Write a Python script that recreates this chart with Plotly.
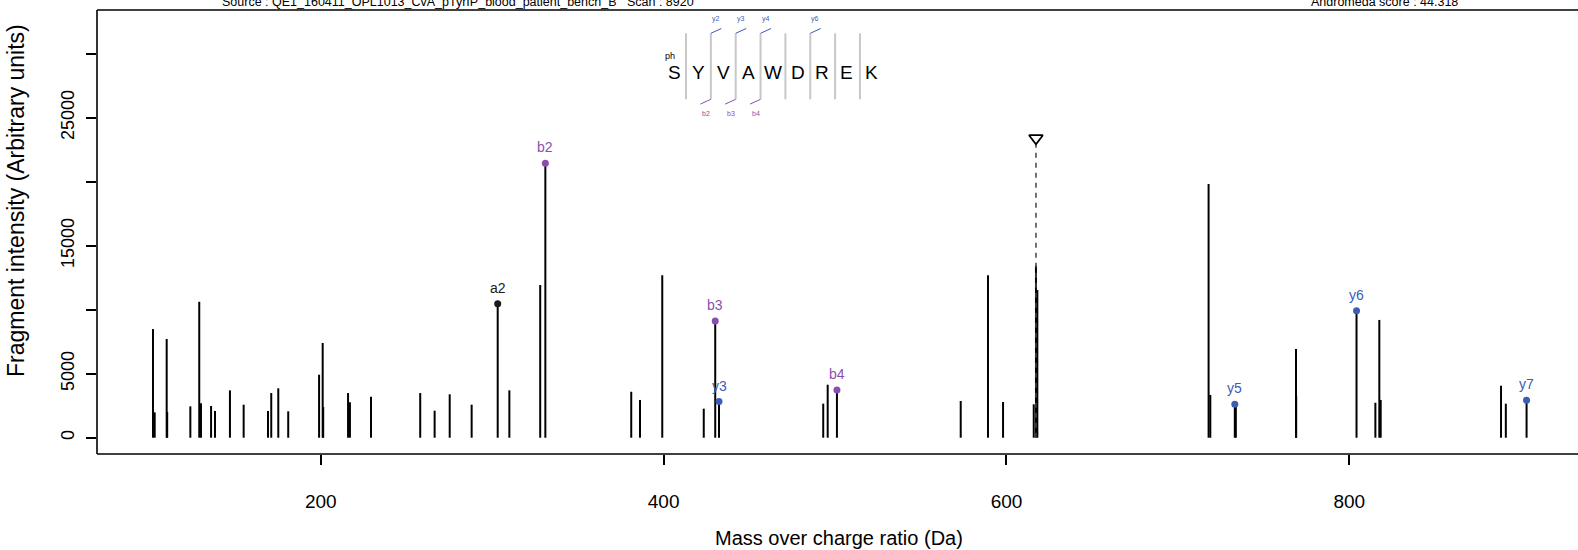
import plotly.graph_objects as go

# ---------------- data ----------------
peak_mz = [102.1, 103.1, 110.1, 110.4, 123.9, 129.1, 130.1, 136.0, 138.3, 147.0,
           155.0, 169.2, 171.1, 175.2, 181.0, 199.0, 201.1, 201.4, 215.9, 217.0,
           229.3, 258.0, 266.4, 275.2, 288.0, 303.2, 310.0, 328.0, 331.0, 381.1,
           386.2, 399.2, 423.4, 430.1, 432.3, 493.1, 495.7, 501.1, 573.3, 589.2,
           598.0, 615.9, 617.2, 618.0, 717.9, 718.9, 733.2, 733.8, 768.9, 769.0,
           804.2, 815.2, 817.5, 818.3, 888.5, 891.3, 903.4]
peak_int = [8490, 1980, 7710, 2000, 2450, 10620, 2690, 2480, 2090, 3700,
            2580, 2090, 3490, 3860, 2060, 4920, 7400, 2400, 3490, 2770,
            3200, 3490, 2110, 3390, 2580, 10470, 3700, 11930, 21450, 3590,
            2950, 12690, 2270, 9120, 2820, 2660, 4140, 3730, 2870, 12690,
            2790, 2610, 13440, 11540, 19820, 3340, 2610, 2500, 6930, 3280,
            9920, 2730, 9200, 2950, 4060, 2660, 2930]

ion_labels = ["a2", "b2", "b3", "y3", "b4", "y5", "y6", "y7"]
ion_mz = [303.2, 331.0, 430.1, 432.3, 501.1, 733.2, 804.2, 903.4]
ion_int = [10470, 21450, 9120, 2820, 3730, 2610, 9920, 2930]
ion_kind = ["a", "b", "b", "y", "b", "y", "y", "y"]

precursor_mz = 617.2
precursor_int = 23400

sequence = ["S", "Y", "V", "A", "W", "D", "R", "E", "K"]
seq_mods = {0: "ph"}
b_ions_seq = [2, 3, 4]
y_ions_seq = [2, 3, 4, 6]

x_ticks = [200, 400, 600, 800]
y_ticks = [0, 5000, 10000, 15000, 20000, 25000, 30000]
y_tick_text = ["0", "5000", "", "15000", "", "25000", ""]

source_text = "Source : QE1_160411_OPL1013_CvA_pTyrIP_blood_patient_bench_B   Scan : 8920"
score_text = "Andromeda score : 44.318"
x_title = "Mass over charge ratio (Da)"
y_title = "Fragment intensity (Arbitrary units)"

# ---------------- style ----------------
FONT = "Liberation Sans, Arial, Helvetica, sans-serif"
W, H = 1578, 550
ML, MR, MT, MB = 97, 0, 10, 96
PW, PH = W - ML - MR, H - MT - MB
colors = {"a": "#1a1a1a", "b": "#8a4fae", "y": "#3b5db3"}
SEP_GRAY = "#c8c8c8"


def px(xp):
    return (xp - ML) / PW


def py(yp):
    return (H - MB - yp) / PH


fig = go.Figure()

# peaks as sticks
xs, ys = [], []
for m, i in zip(peak_mz, peak_int):
    xs += [m, m, None]
    ys += [0, i, None]
fig.add_trace(go.Scatter(x=xs, y=ys, mode="lines",
                         line=dict(color="black", width=2), hoverinfo="skip",
                         showlegend=False))

# precursor dashed line + triangle
fig.add_trace(go.Scatter(x=[precursor_mz, precursor_mz], y=[0, precursor_int - 500],
                         mode="lines", line=dict(color="#444444", width=1.5, dash="5px,5px"),
                         showlegend=False, hoverinfo="skip"))
fig.add_trace(go.Scatter(x=[precursor_mz], y=[precursor_int], mode="markers",
                         marker=dict(symbol="triangle-down-open", size=12,
                                     color="black", line=dict(width=1.8, color="black")),
                         showlegend=False, hoverinfo="skip"))

# ion markers
fig.add_trace(go.Scatter(x=ion_mz, y=ion_int, mode="markers",
                         marker=dict(size=7, color=[colors[k] for k in ion_kind]),
                         showlegend=False, hoverinfo="skip"))

annotations = []
for lab, m, i, k in zip(ion_labels, ion_mz, ion_int, ion_kind):
    annotations.append(dict(x=m, y=i, xref="x", yref="y", text=lab, showarrow=False,
                            yshift=16, font=dict(family=FONT, size=14, color=colors[k])))

# peptide header
letter_x0, letter_dx = 674.3, 24.67
sep_x0, sep_dx = 686.0, 24.85
letter_y = 72.0
sep_top, sep_bot = 33.3, 99.3
shapes = []
for idx, aa in enumerate(sequence):
    annotations.append(dict(x=px(letter_x0 + idx * letter_dx), y=py(letter_y),
                            xref="paper", yref="paper", text=aa, showarrow=False,
                            xanchor="center", yanchor="middle",
                            font=dict(family=FONT, size=19, color="black")))
    if idx in seq_mods:
        annotations.append(dict(x=px(letter_x0 + idx * letter_dx - 4), y=py(56.5),
                                xref="paper", yref="paper", text=seq_mods[idx],
                                showarrow=False, xanchor="center", yanchor="middle",
                                font=dict(family=FONT, size=9, color="black")))
for s in range(len(sequence) - 1):
    sx = sep_x0 + s * sep_dx
    shapes.append(dict(type="line", xref="paper", yref="paper", x0=px(sx), x1=px(sx),
                       y0=py(sep_top), y1=py(sep_bot), line=dict(color=SEP_GRAY, width=2)))
for n in y_ions_seq:
    sx = sep_x0 + (n - 1) * sep_dx
    shapes.append(dict(type="line", xref="paper", yref="paper", x0=px(sx), x1=px(sx + 10.5),
                       y0=py(sep_top), y1=py(sep_top - 4.8),
                       line=dict(color=colors["y"], width=1)))
    annotations.append(dict(x=px(sx + 5), y=py(19.5), xref="paper", yref="paper",
                            text="y%d" % n, showarrow=False, xanchor="center", yanchor="middle",
                            font=dict(family=FONT, size=7, color=colors["y"])))
for n in b_ions_seq:
    sx = sep_x0 + (n - 1) * sep_dx
    shapes.append(dict(type="line", xref="paper", yref="paper", x0=px(sx), x1=px(sx - 10.5),
                       y0=py(sep_bot), y1=py(sep_bot + 4.8),
                       line=dict(color=colors["b"], width=1)))
    annotations.append(dict(x=px(sx - 5), y=py(113.3), xref="paper", yref="paper",
                            text="b%d" % n, showarrow=False, xanchor="center", yanchor="middle",
                            font=dict(family=FONT, size=7, color=colors["b"])))

# header texts (partially clipped at the top, as in the reference)
annotations.append(dict(x=px(458), y=py(2.0), xref="paper", yref="paper", text=source_text,
                        showarrow=False, xanchor="center", yanchor="middle",
                        font=dict(family=FONT, size=12.5, color="black")))
annotations.append(dict(x=px(1384), y=py(2.0), xref="paper", yref="paper", text=score_text,
                        showarrow=False, xanchor="center", yanchor="middle",
                        font=dict(family=FONT, size=12.5, color="black")))

# axis titles
annotations.append(dict(x=px(839), y=py(538), xref="paper", yref="paper", text=x_title,
                        showarrow=False, xanchor="center", yanchor="middle",
                        font=dict(family=FONT, size=20, color="black")))
annotations.append(dict(x=px(16), y=py(201), xref="paper", yref="paper", text=y_title,
                        showarrow=False, xanchor="center", yanchor="middle", textangle=-90,
                        font=dict(family=FONT, size=23, color="black")))

# box (left, top, bottom)
box = dict(color="black", width=1.6)
shapes += [
    dict(type="line", xref="paper", yref="paper", x0=0, x1=0, y0=0, y1=1, line=box),
    dict(type="line", xref="paper", yref="paper", x0=0, x1=1.01, y0=1, y1=1, line=box),
    dict(type="line", xref="paper", yref="paper", x0=0, x1=1.01, y0=0, y1=0, line=box),
]

fig.update_layout(
    width=W, height=H,
    margin=dict(l=ML, r=MR, t=MT, b=MB, pad=0),
    paper_bgcolor="white", plot_bgcolor="white",
    font=dict(family=FONT, size=18, color="black"),
    showlegend=False,
    shapes=shapes,
    annotations=annotations,
    xaxis=dict(range=[69.45, 933.4], tickvals=x_ticks, ticktext=[str(v) for v in x_ticks],
               ticks="outside", ticklen=10, tickwidth=1.5, tickcolor="black",
               showgrid=False, zeroline=False, showline=False, automargin=False,
               tickfont=dict(family=FONT, size=19), ticklabelstandoff=20),
    yaxis=dict(range=[-1273, 33414], tickvals=y_ticks, ticktext=y_tick_text,
               ticks="outside", ticklen=10, tickwidth=1.5, tickcolor="black",
               showgrid=False, zeroline=False, showline=False, tickangle=-90,
               automargin=False,
               tickfont=dict(family=FONT, size=18), ticklabelstandoff=5),
)

fig.write_html("out.html", config={"displayModeBar": False},
               post_script="document.body.style.margin='0';document.body.style.overflow='hidden';")
